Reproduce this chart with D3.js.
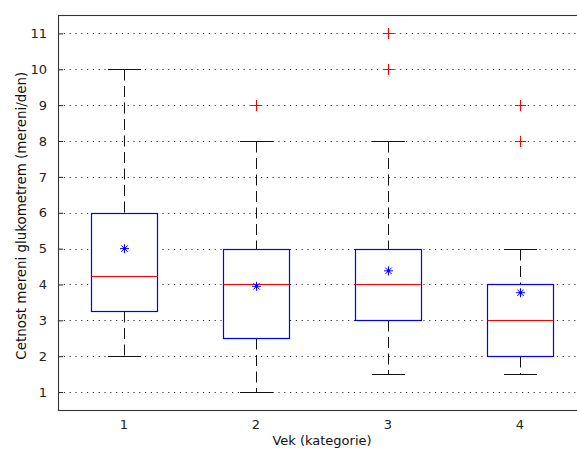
<!DOCTYPE html>
<html>
<head>
<meta charset="utf-8">
<script src="https://cdn.jsdelivr.net/npm/d3@7"></script>
<style>
  body { margin: 0; background: #fff; }
  svg { display: block; font-family: "DejaVu Sans", sans-serif; }
</style>
</head>
<body>
<div id="chart"></div>
<script>
// age categories and box statistics
const categories = [1, 2, 3, 4];
const whiskerLow = [2, 1, 1.5, 1.5];
const q1 = [3.25, 2.5, 3, 2];
const medians = [4.25, 4, 4, 3];
const q3 = [6, 5, 5, 4];
const whiskerHigh = [10, 8, 8, 5];
const means = [5, 3.95, 4.38, 3.77];
const outliers = [[], [9], [10, 11], [8, 9]];
const yTicks = [1, 2, 3, 4, 5, 6, 7, 8, 9, 10, 11];

const W = 577, H = 449;
const margin = { top: 15.5, left: 58, right: -9, bottom: 39 };
const width = W - margin.left - margin.right,
    height = H - margin.top - margin.bottom;

const svg = d3.select("#chart")
    .append("svg")
    .attr("width", W)
    .attr("height", H);

const g = svg.append("g")
    .attr("transform", `translate(${margin.left},${margin.top})`);

const x = d3.scaleLinear().domain([0.5, 4.5]).range([0, width]);
const y = d3.scaleLinear().domain([0.5, 11.5]).range([height, 0]);

// snap to pixel grid so thin lines stay crisp
const sx = v => Math.round(x(v)) + 0.5;
const sy = v => Math.round(y(v) + margin.top) - margin.top + 0.5;

// dotted horizontal grid
g.append("g")
    .selectAll("line")
    .data(yTicks)
    .join("line")
    .attr("x1", 0)
    .attr("x2", width)
    .attr("y1", d => sy(d))
    .attr("y2", d => sy(d))
    .attr("stroke", "#333")
    .attr("stroke-width", 1)
    .attr("stroke-dasharray", "1.2,4.6");

// y axis: inward ticks, labels on the left
const yAxis = g.append("g")
    .call(d3.axisLeft(y).tickValues(yTicks).tickSizeInner(-5).tickSizeOuter(0).tickPadding(11));
yAxis.select(".domain").remove();
yAxis.selectAll("line").attr("stroke", "#222");
yAxis.selectAll("text")
    .attr("font-size", 13)
    .attr("fill", "#222")
    .attr("font-family", "DejaVu Sans, sans-serif");

// axes frame
g.append("rect")
    .attr("x", 0.5)
    .attr("y", 0)
    .attr("width", width)
    .attr("height", Math.round(height))
    .attr("fill", "none")
    .attr("stroke", "#333")
    .attr("stroke-width", 1.1);

const boxW = x(0.25) - x(0);
const capW = x(0.125) - x(0);

const boxes = g.append("g")
    .selectAll("g")
    .data(categories)
    .join("g");

// whiskers (dashed) and caps
boxes.append("line")
    .attr("x1", d => sx(d)).attr("x2", d => sx(d))
    .attr("y1", (d, i) => sy(whiskerHigh[i])).attr("y2", (d, i) => sy(q3[i]))
    .attr("stroke", "#111").attr("stroke-dasharray", "11,5.5");
boxes.append("line")
    .attr("x1", d => sx(d)).attr("x2", d => sx(d))
    .attr("y1", (d, i) => sy(q1[i])).attr("y2", (d, i) => sy(whiskerLow[i]))
    .attr("stroke", "#111").attr("stroke-dasharray", "11,5.5");
boxes.append("line")
    .attr("x1", d => sx(d) - capW).attr("x2", d => sx(d) + capW)
    .attr("y1", (d, i) => sy(whiskerHigh[i])).attr("y2", (d, i) => sy(whiskerHigh[i]))
    .attr("stroke", "#111");
boxes.append("line")
    .attr("x1", d => sx(d) - capW).attr("x2", d => sx(d) + capW)
    .attr("y1", (d, i) => sy(whiskerLow[i])).attr("y2", (d, i) => sy(whiskerLow[i]))
    .attr("stroke", "#111");

// boxes
boxes.append("rect")
    .attr("x", d => Math.round(x(d) - boxW) + 0.5)
    .attr("width", Math.round(boxW * 2))
    .attr("y", (d, i) => sy(q3[i]))
    .attr("height", (d, i) => sy(q1[i]) - sy(q3[i]))
    .attr("fill", "#fff")
    .attr("stroke", "#00f")
    .attr("stroke-width", 1.2);

// medians
boxes.append("line")
    .attr("x1", d => Math.round(x(d) - boxW) + 0.5)
    .attr("x2", d => Math.round(x(d) - boxW) + 0.5 + Math.round(boxW * 2))
    .attr("y1", (d, i) => sy(medians[i])).attr("y2", (d, i) => sy(medians[i]))
    .attr("stroke", "#f00")
    .attr("stroke-width", 1.2);

// means as blue asterisks
const star = "M-4.5,0H4.5M0,-4.5V4.5M-3.2,-3.2L3.2,3.2M-3.2,3.2L3.2,-3.2";
boxes.append("path")
    .attr("transform", (d, i) => `translate(${sx(d)},${y(means[i])})`)
    .attr("d", star)
    .attr("stroke", "#00f")
    .attr("stroke-width", 1)
    .attr("fill", "none");
boxes.append("circle")
    .attr("cx", d => sx(d))
    .attr("cy", (d, i) => y(means[i]))
    .attr("r", 1.6)
    .attr("fill", "#00f");

// outliers as red plus signs
const outData = outliers.flatMap((vals, i) => vals.map(v => ({ cat: categories[i], v })));
g.append("g")
    .selectAll("path")
    .data(outData)
    .join("path")
    .attr("transform", d => `translate(${sx(d.cat)},${sy(d.v)})`)
    .attr("d", "M-5.5,0H5.5M0,-5.5V5.5")
    .attr("stroke", "#f00")
    .attr("stroke-width", 1.1);

// x tick labels
g.append("g")
    .selectAll("text")
    .data(categories)
    .join("text")
    .attr("x", d => x(d))
    .attr("y", height + 19)
    .attr("text-anchor", "middle")
    .attr("font-size", 13)
    .attr("fill", "#222")
    .text(d => d);

// axis labels
g.append("text")
    .attr("x", width / 2)
    .attr("y", height + 34.5)
    .attr("text-anchor", "middle")
    .attr("font-size", 13)
    .attr("fill", "#111")
    .text("Vek (kategorie)");

svg.append("text")
    .attr("transform", `translate(26,${margin.top + height / 2 + 3}) rotate(-90)`)
    .attr("text-anchor", "middle")
    .attr("font-size", 13.4)
    .attr("fill", "#111")
    .text("Cetnost mereni glukometrem (mereni/den)");
</script>
</body>
</html>
